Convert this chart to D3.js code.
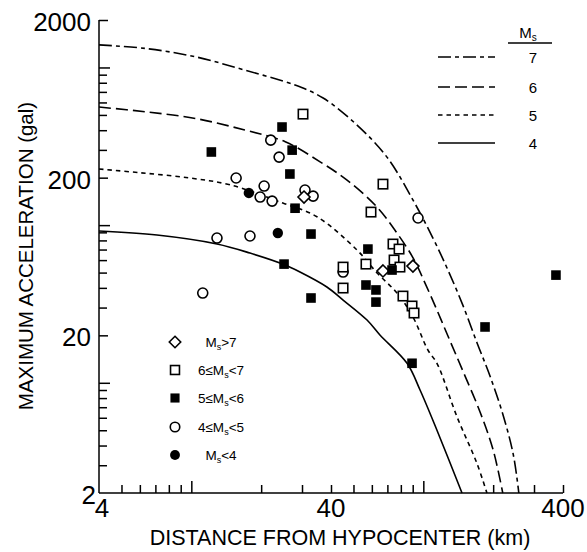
<!DOCTYPE html>
<html>
<head>
<meta charset="utf-8">
<script src="https://cdn.jsdelivr.net/npm/d3@7"></script>
<style>
  body { margin: 0; background: #fff; }
  svg { display: block; }
  text { font-family: "Liberation Sans", Arial, Helvetica, sans-serif; fill: #000; }
</style>
</head>
<body>
<svg id="chart" width="587" height="552"></svg>
<script>
// Attenuation curves: maximum acceleration (gal) vs. hypocentral distance (km)
const curveMagnitudes = [7, 6, 5, 4];
const curveM7 = [[4,1390],[6.31,1321],[10.4,1169],[17.0,962],[28.0,773],[37.0,640],[51.8,431],[69.7,270],[90.3,144],[110,82.8],[126.5,53.5],[148,31.1],[170,18.1],[194,11.0],[220,6.34],[244,3.53],[258,2]];
const curveM6 = [[4,561],[6.31,524],[10.4,475],[17.0,401],[25.4,338],[35.9,252],[46.9,193],[63.2,130],[77,89],[90.3,62],[101.7,42.9],[114.5,28.9],[127.7,19.8],[148,11.9],[175.6,6.53],[200,3.75],[220,2]];
const curveM5 = [[4,227],[6.0,215],[9.87,199],[14.7,180],[24.8,138],[34.8,113],[51.8,69.5],[63.2,49.7],[77,37.1],[90.3,26.1],[104.7,16.1],[114.5,13.3],[139.6,6.1],[170,3.1],[188,2]];
const curveM4 = [[4,91.7],[7.11,86.5],[12.9,75.9],[17.9,66.5],[24.8,56.6],[29.4,50.4],[38.4,40.5],[45.1,33.5],[57.2,25.0],[65,20.1],[85.1,13.3],[96.8,9.0],[114.5,5.0],[146.8,2]];

// Observed records grouped by surface-wave magnitude
const msAbove7 = [[30.6,150.7],[67.0,51.2],[90.2,55.0]];
const ms6to7 = [[30.3,506],[67.0,182],[59.5,121],[74.0,75.9],[78.6,70.5],[74.8,60.1],[79.3,54.2],[56.6,56.6],[45.1,54.2],[45.1,39.9],[81.7,35.5],[89.4,30.7],[91.2,27.7]];
const ms5to6 = [[24.6,419],[27.2,299],[12.2,291],[26.6,211],[28.0,128],[32.8,87.8],[25.1,56.6],[32.8,34.5],[57.7,70.5],[73.3,51.9],[56.6,41.7],[62.5,38.8],[62.5,32.5],[89.4,13.3],[184.5,22.6],[373,48.2]];
const ms4to5 = [[22.0,346],[23.9,270],[15.6,199],[20.6,177],[19.8,150.7],[22.3,142],[30.9,167],[33.5,152.8],[12.9,82.8],[17.9,85.3],[11.2,37.1],[45.1,50.4],[94.9,111]];
const msBelow4 = [[17.7,160],[23.6,89.1]];

// Axis tick labels
const xTickLabels = [4, 40, 400];
const yTickLabels = [2, 20, 200, 2000];

const svg = d3.select("#chart");
const x = d3.scaleLog().domain([4, 400]).range([99, 563]);
const y = d3.scaleLog().domain([2, 2000]).range([493, 20]);

// minor/major tick positions for each decade
const xTicks = [], yTicks = [];
[1, 10, 100].forEach(p => { for (let k = 1; k <= 9; k++) { const v = k * p; if (v > 4 && v <= 400) xTicks.push(v); } });
[1, 10, 100, 1000].forEach(p => { for (let k = 1; k <= 9; k++) { const v = k * p; if (v > 2 && v <= 2000) yTicks.push(v); } });
const isPow10 = v => Math.abs(Math.log10(v) - Math.round(Math.log10(v))) < 1e-9;

// X axis, ticks pointing up into the plot
const gx = svg.append("g").attr("transform", "translate(0,493)")
  .call(d3.axisTop(x).tickValues(xTicks).tickSizeOuter(0).tickSize(8).tickFormat(""));
gx.selectAll(".tick line").attr("y2", d => isPow10(d) ? -12 : -8);
gx.select(".domain").attr("d", "M99,0H563");

// Y axis, ticks pointing right into the plot
const gy = svg.append("g").attr("transform", "translate(99,0)")
  .call(d3.axisRight(y).tickValues(yTicks).tickSizeOuter(0).tickSize(8).tickFormat(""));
gy.selectAll(".tick line").attr("x2", d => isPow10(d) ? 11 : (yTickLabels.includes(d) ? 9 : 8));
gy.select(".domain").attr("d", "M0,20V493");
svg.selectAll(".domain, .tick line").attr("stroke", "#000").attr("stroke-width", 1.5);

// Tick labels
svg.append("g").selectAll("text").data(yTickLabels).join("text")
  .attr("x", d => d === 2 ? 96 : 91)
  .attr("y", d => y(d) + 11)
  .attr("text-anchor", "end")
  .attr("font-size", 26)
  .text(d => d);
svg.append("g").selectAll("text").data(xTickLabels).join("text")
  .attr("x", d => d === 4 ? x(d) + 3 : x(d))
  .attr("y", 517)
  .attr("text-anchor", "middle")
  .attr("font-size", 26)
  .text(d => d);

// Axis titles
svg.append("text")
  .attr("x", 340).attr("y", 545)
  .attr("text-anchor", "middle")
  .attr("font-size", 21.5)
  .text("DISTANCE FROM HYPOCENTER (km)");
svg.append("text")
  .attr("transform", "translate(33,256) rotate(-90)")
  .attr("text-anchor", "middle")
  .attr("font-size", 20.5)
  .text("MAXIMUM ACCELERATION (gal)");

// Curves
const dashes = { 7: "13,4,4,4", 6: "12,5", 5: "4.5,4", 4: null };
const curves = [curveM7, curveM6, curveM5, curveM4];
const line = d3.line().x(d => x(d[0])).y(d => y(d[1])).curve(d3.curveCatmullRom.alpha(0.5));
svg.append("g").selectAll("path").data(curves).join("path")
  .attr("d", line)
  .attr("fill", "none")
  .attr("stroke", "#000")
  .attr("stroke-width", 1.6)
  .attr("stroke-dasharray", (d, i) => dashes[curveMagnitudes[i]]);

// Point symbols
function drawSymbol(g, type, cx, cy, scale = 1) {
  const s = scale;
  if (type === "diamond") {
    const r = 6 * s;
    g.append("path").attr("d", `M${cx},${cy - r}L${cx + r},${cy}L${cx},${cy + r}L${cx - r},${cy}Z`)
      .attr("fill", "#fff").attr("stroke", "#000").attr("stroke-width", 1.6);
  } else if (type === "square") {
    const h = 4.7 * s;
    g.append("rect").attr("x", cx - h).attr("y", cy - h).attr("width", 2 * h).attr("height", 2 * h)
      .attr("fill", "#fff").attr("stroke", "#000").attr("stroke-width", 1.6);
  } else if (type === "fsquare") {
    const h = 4.8 * s;
    g.append("rect").attr("x", cx - h).attr("y", cy - h).attr("width", 2 * h).attr("height", 2 * h)
      .attr("fill", "#000");
  } else if (type === "circle") {
    g.append("circle").attr("cx", cx).attr("cy", cy).attr("r", 5 * s)
      .attr("fill", "#fff").attr("stroke", "#000").attr("stroke-width", 1.6);
  } else if (type === "fcircle") {
    g.append("circle").attr("cx", cx).attr("cy", cy).attr("r", 5.2 * s).attr("fill", "#000");
  }
}
const groups = [
  { type: "circle", data: ms4to5 },
  { type: "diamond", data: msAbove7 },
  { type: "square", data: ms6to7 },
  { type: "fsquare", data: ms5to6 },
  { type: "fcircle", data: msBelow4 }
];
const gp = svg.append("g");
groups.forEach(grp => grp.data.forEach(d => drawSymbol(gp, grp.type, x(d[0]), y(d[1]))));

// Legend for curves (top right)
const gl = svg.append("g");
const hdr = gl.append("text").attr("x", 528).attr("y", 38).attr("text-anchor", "middle").attr("font-size", 15);
hdr.append("tspan").text("M");
hdr.append("tspan").attr("font-size", 10).attr("dy", 3).text("s");
gl.append("line").attr("x1", 508).attr("x2", 552).attr("y1", 43).attr("y2", 43).attr("stroke", "#000").attr("stroke-width", 1.5);
const curveLegendY = [57, 87, 115, 143];
curveMagnitudes.forEach((m, i) => {
  gl.append("line").attr("x1", 438).attr("x2", 495).attr("y1", curveLegendY[i]).attr("y2", curveLegendY[i])
    .attr("stroke", "#000").attr("stroke-width", 1.6).attr("stroke-dasharray", dashes[m]);
  gl.append("text").attr("x", 533).attr("y", curveLegendY[i] + 6).attr("text-anchor", "middle").attr("font-size", 15).text(m);
});

// Legend for symbols (lower left)
const symbolLegend = [
  { type: "diamond", pre: "", post: ">7" },
  { type: "square", pre: "6≤", post: "<7" },
  { type: "fsquare", pre: "5≤", post: "<6" },
  { type: "circle", pre: "4≤", post: "<5" },
  { type: "fcircle", pre: "", post: "<4" }
];
const symLegendY = [342, 370, 398, 427, 455];
const gs = svg.append("g");
symbolLegend.forEach((it, i) => {
  drawSymbol(gs, it.type, 175, symLegendY[i], 0.95);
  const t = gs.append("text").attr("x", 221).attr("y", symLegendY[i] + 5).attr("text-anchor", "middle").attr("font-size", 13.5);
  t.append("tspan").text(it.pre + "M");
  t.append("tspan").attr("font-size", 9).attr("dy", 3).text("s");
  t.append("tspan").attr("dy", -3).text(it.post);
});
</script>
</body>
</html>
